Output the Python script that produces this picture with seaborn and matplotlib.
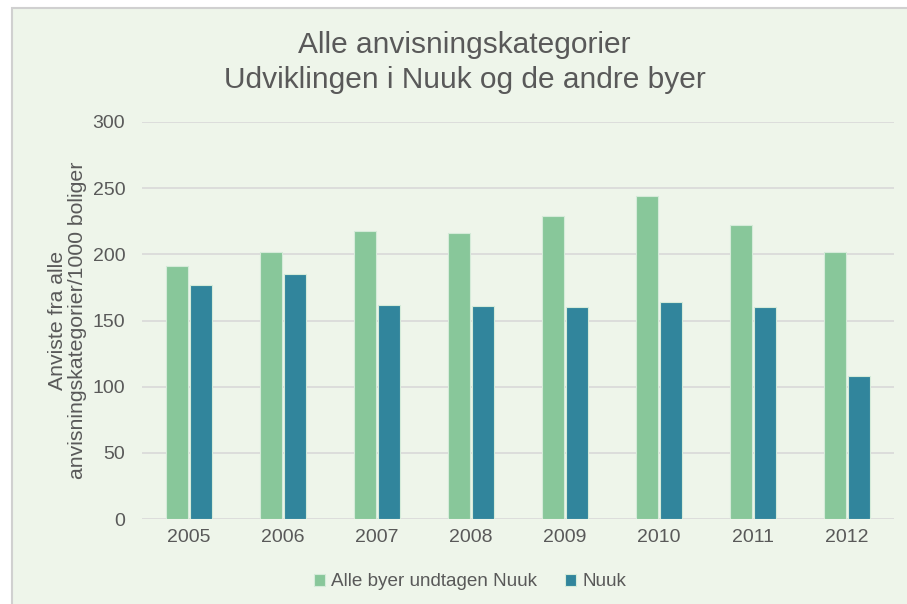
import pandas as pd
import matplotlib.pyplot as plt
import seaborn as sns
from matplotlib.patches import Rectangle

years = ["2005", "2006", "2007", "2008", "2009", "2010", "2011", "2012"]
andre_byer = [191, 202, 218, 216, 229, 244, 222, 202]
nuuk = [177, 185, 162, 161, 160, 164, 160, 108]
series_names = ["Alle byer undtagen Nuuk", "Nuuk"]

df = pd.DataFrame({
    "År": years * 2,
    "Serie": [series_names[0]] * len(years) + [series_names[1]] * len(years),
    "Værdi": andre_byer + nuuk,
})

bg = "#EEF5EA"
txt = "#595959"
grid = "#D9D9D9"

sns.set_theme(style="white")
plt.rcParams["font.family"] = ["Liberation Sans", "DejaVu Sans"]

fig = plt.figure(figsize=(9.07, 6.04), dpi=100)
fig.patch.set_facecolor("white")
# chart area frame
fig.patches.append(Rectangle((12 / 907, -0.05), 1.0, (604 - 8) / 604 + 0.05,
                             transform=fig.transFigure, facecolor=bg,
                             edgecolor="#D0D0D0", linewidth=1.5, zorder=-5))

ax = fig.add_axes([142 / 907, (604 - 519) / 604, (894 - 142) / 907, (519 - 122) / 604])
ax.set_facecolor(bg)
ax.patch.set_alpha(0)

sns.barplot(data=df, x="År", y="Værdi", hue="Serie", hue_order=series_names,
            palette=["#88C79A", "#31859C"], saturation=1, width=0.52, gap=0.1,
            edgecolor="#D5EBD9", linewidth=0.8, ax=ax, zorder=3)

ax.set_ylim(0, 300)
ax.set_yticks(range(0, 301, 50))
ax.set_xlim(-0.5, 7.5)
ax.yaxis.grid(True, color=grid, linewidth=1.2, zorder=0)
ax.set_axisbelow(True)
sns.despine(ax=ax, left=True, bottom=True)
ax.tick_params(axis="both", length=0, labelsize=14, colors=txt)
ax.tick_params(axis="y", pad=12)
ax.tick_params(axis="x", pad=7)
ax.set_xlabel("")
ax.set_ylabel("Anviste fra alle\nanvisningskategorier/1000 boliger",
              fontsize=15.3, color=txt, labelpad=4, linespacing=1.05)

fig.text(0.512, 1 - 45 / 604, "Alle anvisningskategorier",
         ha="center", va="center", fontsize=21.5, color=txt)
fig.text(0.512, 1 - 80 / 604, "Udviklingen i Nuuk og de andre byer",
         ha="center", va="center", fontsize=21.5, color=txt)

leg = ax.legend(loc="center", bbox_to_anchor=(0.436, -0.158), ncol=2, frameon=False,
                fontsize=13.6, handlelength=0.6, handleheight=0.6,
                handletextpad=0.3, columnspacing=1.5)
for t in leg.get_texts():
    t.set_color(txt)

fig.savefig("out.png", dpi=100, facecolor=fig.get_facecolor())
